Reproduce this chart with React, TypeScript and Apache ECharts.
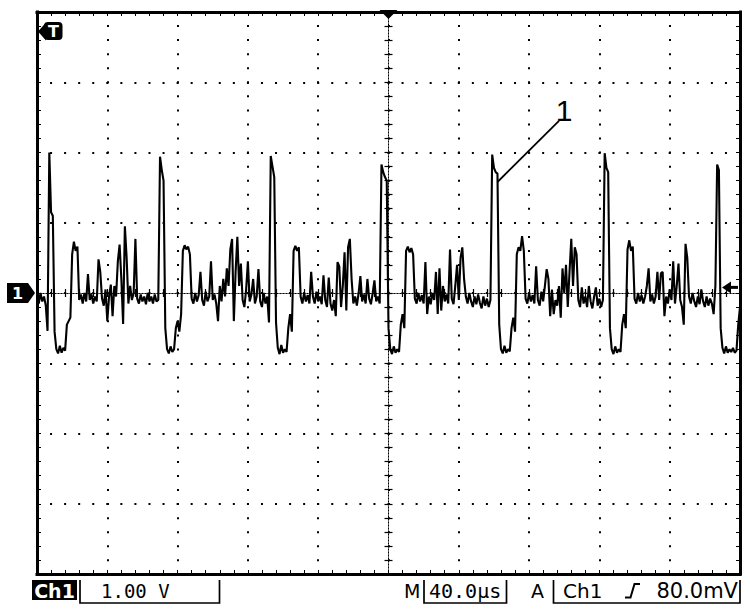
import React, { useEffect, useRef } from "react";
import * as echarts from "echarts";

// ---- data ----
const traceStartUs = -200; // first sample time relative to trigger (µs)
const sampleStepUs = 1; // sample spacing (µs)
const ch1Volts = [
  -0.05, -0.15, 0.0, -0.12, -0.05, -0.18, -0.54, 2.0, 1.15, 1.1,
  -0.55, -0.8, -0.86, -0.75, -0.85, -0.78, -0.82, -0.45, -0.4, -0.35,
  0.55, 0.73, 0.6, 0.66, -0.1, -0.02, -0.15, 0.0, -0.12, 0.27,
  -0.1, -0.02, -0.15, -0.05, -0.12, 0.48, 0.3, -0.08, -0.18, 0.05,
  -0.4, -0.05, 0.12, -0.33, 0.1, -0.05, 0.45, 0.69, 0.2, -0.44,
  0.95, 0.5, -0.15, 0.1, -0.1, 0.0, 0.77, -0.08, -0.15, -0.02,
  -0.12, -0.05, -0.16, 0.0, -0.12, -0.05, -0.15, -0.02, -0.12, -0.1,
  1.94, 1.75, 1.6, -0.5, -0.8, -0.86, -0.76, -0.84, -0.8, -0.5,
  -0.4, -0.55, -0.3, 0.6, 0.68, 0.62, 0.66, 0.55, -0.08, -0.15,
  0.0, -0.12, -0.03, 0.3, -0.1, -0.18, 0.02, -0.12, -0.05, 0.45,
  -0.1, -0.02, -0.15, -0.4, 0.1, -0.12, 0.2, -0.05, 0.35, 0.1,
  0.62, 0.77, -0.4, 0.3, 0.8, 0.1, 0.42, -0.1, -0.2, 0.05,
  0.45, -0.12, -0.02, 0.2, -0.15, -0.05, 0.34, -0.12, -0.2, 0.0,
  -0.15, -0.05, -0.42, 1.95, 1.8, 1.65, -0.42, -0.78, -0.87, -0.74,
  -0.85, -0.8, -0.84, -0.5, -0.3, -0.55, 0.6, 0.67, 0.6, 0.65,
  -0.05, -0.15, 0.0, -0.12, -0.03, -0.15, 0.3, -0.05, -0.15, 0.02,
  -0.12, -0.05, -0.16, 0.25, -0.1, -0.2, 0.22, -0.15, -0.25, -0.1,
  -0.33, 0.44, 0.38, -0.2, 0.1, 0.58, -0.25, 0.65, 0.77, 0.2,
  -0.15, -0.05, -0.18, 0.0, 0.24, -0.12, -0.02, -0.15, 0.2, -0.08,
  -0.16, 0.0, 0.18, -0.12, -0.05, -0.15, 1.83, 1.72, 1.65, 1.6,
  -0.5, -0.8, -0.87, -0.76, -0.85, -0.8, -0.84, -0.45, -0.3, -0.5,
  0.6, 0.66, 0.58, 0.64, 0.55, -0.08, -0.15, 0.0, -0.12, -0.03,
  -0.15, 0.44, -0.3, -0.05, -0.16, 0.0, -0.1, 0.3, -0.3, 0.35,
  -0.25, 0.1, -0.12, -0.02, -0.15, 0.62, -0.08, -0.16, 0.1, 0.4,
  -0.1, 0.5, 0.65, 0.2, -0.05, -0.15, 0.0, -0.12, -0.2, -0.05,
  -0.16, -0.02, -0.14, -0.22, -0.05, -0.18, -0.08, -0.2, -0.1, 1.97,
  1.78, 1.72, 1.7, -0.45, -0.8, -0.86, -0.75, -0.85, -0.8, -0.83,
  -0.5, -0.35, -0.55, 0.55, 0.65, 0.6, 0.81, 0.6, -0.08, -0.15,
  0.0, -0.12, -0.03, -0.15, 0.38, -0.1, -0.18, 0.02, -0.12, 0.1,
  0.34, 0.2, -0.33, 0.05, -0.3, -0.1, -0.18, 0.1, -0.35, 0.35,
  0.0, 0.4, -0.2, 0.3, 0.77, 0.1, 0.65, 0.55, -0.1, -0.2,
  0.08, -0.15, -0.05, -0.2, 0.1, -0.12, -0.22, -0.05, 0.08, -0.18,
  -0.08, -0.2, -0.1, 1.99, 1.78, 1.72, -0.5, -0.8, -0.87, -0.76,
  -0.85, -0.8, -0.84, -0.45, -0.3, -0.5, 0.62, 0.75, 0.6, 0.66,
  -0.08, -0.15, 0.0, -0.12, -0.03, -0.15, -0.05, 0.1, 0.35, -0.12,
  -0.02, -0.15, -0.05, 0.3, -0.1, 0.28, 0.3, -0.33, -0.05, -0.15,
  0.05, -0.1, 0.45, -0.15, 0.1, 0.42, -0.1, -0.2, -0.45, 0.7,
  0.5, -0.05, -0.15, 0.0, -0.12, -0.2, -0.05, -0.16, 0.05, -0.12,
  -0.2, -0.05, -0.18, -0.08, -0.15, -0.3, 0.1, 1.83, 1.75, -0.5,
  -0.78, -0.86, -0.76, -0.85, -0.8, -0.84, -0.78, -0.85, -0.82, -0.45,
  -0.2,
];

const timeRangeUs = [-200, 200];
const timePerDivUs = 40;
const voltRange = [-4, 4];
const voltsPerDiv = 1;
const triggerLevelV = 0.08;
const minorPerDiv = 5;

const statusLabels = ["Ch1", "1.00 V", "M", "40.0µs", "A", "Ch1", "80.0mV"];
const annotationLabel = "1";

const BLACK = "#000";

export default function App() {
  const ref = useRef<HTMLDivElement>(null);

  useEffect(() => {
    if (!ref.current) return;
    const chart = echarts.init(ref.current, null, { renderer: "svg" });

    const data = ch1Volts.map((v, i) => [traceStartUs + i * sampleStepUs, v]);

    const gridDots = {
      show: true,
      lineStyle: { color: BLACK, width: 2, type: [2, 12.06], dashOffset: 1 },
    };

    const frameAxis = (dim: "x" | "y", position: string, withGrid: boolean) => ({
      type: "value",
      min: dim === "x" ? timeRangeUs[0] : voltRange[0],
      max: dim === "x" ? timeRangeUs[1] : voltRange[1],
      interval: dim === "x" ? timePerDivUs : voltsPerDiv,
      position,
      axisLine: { show: true, onZero: false, lineStyle: { color: BLACK, width: 3, cap: "square" } },
      axisTick: { show: true, inside: true, length: 4, lineStyle: { color: BLACK, width: 1 } },
      minorTick: { show: true, splitNumber: minorPerDiv, length: 4, lineStyle: { color: BLACK, width: 1 } },
      axisLabel: { show: false },
      splitLine: withGrid ? gridDots : { show: false },
      minorSplitLine: { show: false },
    });

    const centerAxis = (dim: "x" | "y", inside: boolean) => ({
      type: "value",
      min: dim === "x" ? timeRangeUs[0] : voltRange[0],
      max: dim === "x" ? timeRangeUs[1] : voltRange[1],
      interval: dim === "x" ? timePerDivUs : voltsPerDiv,
      position: dim === "x" ? "bottom" : "left",
      axisLine: {
        show: true,
        onZero: true,
        onZeroAxisIndex: 0,
        lineStyle: { color: BLACK, width: 1, type: [1, 2] },
      },
      axisTick: { show: true, inside, length: 4, lineStyle: { color: BLACK, width: 1.2 } },
      minorTick: { show: true, splitNumber: minorPerDiv, length: 4, lineStyle: { color: BLACK, width: 1.2 } },
      axisLabel: { show: false },
      splitLine: { show: false },
    });

    chart.setOption({
      animation: false,
      backgroundColor: "#fff",
      textStyle: { fontFamily: "DejaVu Sans" },
      grid: { left: 37, top: 12, width: 703, height: 562, containLabel: false, outerBoundsMode: "none" },
      xAxis: [
        frameAxis("x", "bottom", true),
        frameAxis("x", "top", false),
        centerAxis("x", true),
        centerAxis("x", false),
      ],
      yAxis: [
        frameAxis("y", "left", true),
        frameAxis("y", "right", false),
        centerAxis("y", true),
        centerAxis("y", false),
      ],
      series: [
        {
          type: "line",
          xAxisIndex: 0,
          yAxisIndex: 0,
          data,
          symbol: "none",
          showSymbol: false,
          smooth: false,
          lineStyle: { color: BLACK, width: 2.1, join: "bevel" },
          z: 5,
        },
      ],
    });

    const px = (t: number, v: number) =>
      chart.convertToPixel({ seriesIndex: 0 }, [t, v]) as number[];
    const [cx, topY] = px(0, voltRange[1]);
    const [leftX, zeroY] = px(timeRangeUs[0], 0);
    const [rightX, trigY] = px(timeRangeUs[1], triggerLevelV);
    const [, bottomY] = px(0, voltRange[0]);
    const annStart = px(62, 1.58);
    const annEnd = px(97, 2.45);

    const sy = bottomY + 6; // status box top
    const sb = bottomY + 29; // status box bottom
    const midY = bottomY + 16.5;

    const txt = (text: string, x: number, y: number, font: Record<string, any>, align = "left", fill = BLACK) => ({
      type: "text",
      z: 100,
      x,
      y,
      style: { text, fill, align, verticalAlign: "middle", ...font },
    });

    chart.setOption({
      graphic: [
        // trigger position marker (top centre)
        {
          type: "polygon",
          z: 100,
          shape: { points: [[cx - 9, topY - 2], [cx + 9, topY - 2], [cx, topY + 7]] },
          style: { fill: BLACK },
        },
        // "T" marker top-left
        {
          type: "polygon",
          z: 100,
          shape: { points: [[leftX + 1, topY + 19.5], [leftX + 9, topY + 10.5], [leftX + 9, topY + 28.5]] },
          style: { fill: BLACK },
        },
        {
          type: "rect",
          z: 100,
          shape: { x: leftX + 7, y: topY + 10, width: 18.5, height: 18, r: 4 },
          style: { fill: BLACK },
        },
        txt("T", leftX + 16.5, topY + 19.5, { fontFamily: "DejaVu Sans", fontWeight: "bold", fontSize: 16 }, "center", "#fff"),
        // channel 1 ground marker
        {
          type: "polygon",
          z: 100,
          shape: {
            points: [
              [leftX - 30, zeroY - 10],
              [leftX - 9, zeroY - 10],
              [leftX - 2, zeroY],
              [leftX - 9, zeroY + 10],
              [leftX - 30, zeroY + 10],
            ],
          },
          style: { fill: BLACK },
        },
        txt("1", leftX - 19.5, zeroY + 0.5, { fontFamily: "DejaVu Sans", fontWeight: "bold", fontSize: 16 }, "center", "#fff"),
        // trigger level arrow (right)
        {
          type: "polygon",
          z: 100,
          shape: { points: [[rightX - 18, trigY], [rightX - 9, trigY - 6], [rightX - 9, trigY + 6]] },
          style: { fill: BLACK },
        },
        {
          type: "line",
          z: 100,
          shape: { x1: rightX - 10, y1: trigY, x2: rightX - 2, y2: trigY },
          style: { stroke: BLACK, lineWidth: 3 },
        },
        // annotation leader
        {
          type: "line",
          z: 100,
          shape: { x1: annStart[0], y1: annStart[1], x2: annEnd[0], y2: annEnd[1] },
          style: { stroke: BLACK, lineWidth: 1.8 },
        },
        txt(annotationLabel, annEnd[0] + 5, annEnd[1] - 10, { fontFamily: "Liberation Sans", fontSize: 30 }, "center"),
        // status bar
        {
          type: "rect",
          z: 100,
          shape: { x: leftX - 5, y: sy, width: 45, height: 20 },
          style: { fill: BLACK },
        },
        txt(statusLabels[0], leftX + 17.5, midY, { fontFamily: "DejaVu Sans", fontWeight: "bold", fontSize: 19 }, "center", "#fff"),
        {
          type: "polyline",
          z: 100,
          shape: { points: [[80, sy], [80, sb], [219.5, sb], [219.5, sy]] },
          style: { stroke: BLACK, lineWidth: 1.7, fill: "none" },
        },
        txt(statusLabels[1], 101, midY, { fontFamily: "DejaVu Sans Mono", fontSize: 19 }),
        txt(statusLabels[2], 404, midY, { fontFamily: "DejaVu Sans", fontSize: 19 }),
        {
          type: "polyline",
          z: 100,
          shape: { points: [[424, sy], [424, sb], [506.5, sb], [506.5, sy]] },
          style: { stroke: BLACK, lineWidth: 1.7, fill: "none" },
        },
        txt(statusLabels[3], 429, midY, { fontFamily: "DejaVu Sans Mono", fontSize: 20 }),
        txt(statusLabels[4], 531, midY, { fontFamily: "DejaVu Sans", fontSize: 19 }),
        {
          type: "polyline",
          z: 100,
          shape: { points: [[553.5, sy], [553.5, sb], [740, sb], [740, sy]] },
          style: { stroke: BLACK, lineWidth: 1.7, fill: "none" },
        },
        txt(statusLabels[5], 563, midY, { fontFamily: "DejaVu Sans", fontSize: 20 }),
        {
          type: "polyline",
          z: 100,
          shape: { points: [[625, midY + 7], [630.5, midY + 7], [634.5, midY - 6.5], [640, midY - 6.5]] },
          style: { stroke: BLACK, lineWidth: 2, fill: "none" },
        },
        txt(statusLabels[6], 738, midY, { fontFamily: "DejaVu Sans", fontSize: 21 }, "right"),
      ],
    });

    return () => chart.dispose();
  }, []);

  return (
    <div
      ref={ref}
      style={{ position: "absolute", left: 0, top: 0, width: 750, height: 614, background: "#fff" }}
    />
  );
}
